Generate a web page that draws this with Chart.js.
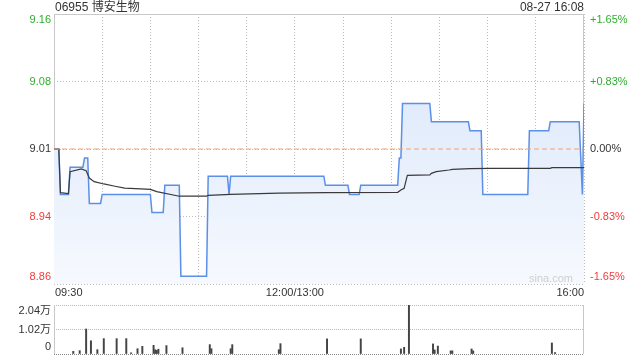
<!DOCTYPE html>
<html>
<head>
<meta charset="utf-8">
<script src="https://cdn.jsdelivr.net/npm/chart.js@4/dist/chart.umd.min.js"></script>
<style>
  html, body { margin: 0; padding: 0; background: #fff; }
  #wrap { position: relative; width: 640px; height: 360px; overflow: hidden; }
  #main { position: absolute; left: 0; top: 0; }
  #vol { position: absolute; left: 0; top: 300px; }
</style>
</head>
<body>
<div id="wrap">
  <canvas id="main" width="640" height="300"></canvas>
  <canvas id="vol" width="640" height="60"></canvas>
</div>
<script>
// ---- data (minute index from 09:30; 150 = 12:00/13:00; 330 = 16:00) ----
const titleText = '06955 博安生物';
const stampText = '08-27 16:08';
const prevClose = 9.01;

const priceMinutes = [0,3,4,9,10,18,19,21,22,29,30,60,61,68,69,78,79,95,96,108,109,110,168,169,183,184,190,191,214,215,216,217,234,235,258,259,266,267,295,296,308,309,327,329,330];
const priceValues  = [9.01,9.01,8.96,8.96,8.99,8.99,9.00,9.00,8.95,8.95,8.96,8.96,8.94,8.94,8.97,8.97,8.87,8.87,8.98,8.98,8.96,8.98,8.98,8.97,8.97,8.96,8.96,8.97,8.97,9.00,9.00,9.06,9.06,9.04,9.04,9.03,9.03,8.96,8.96,9.03,9.03,9.04,9.04,8.96,9.06];

const avgMinutes = [0,3,4,9,10,17,20,22,25,31,38,44,54,60,64,78,95,96,110,140,169,214,216,218,220,234,235,238,246,248,259,272,309,310,330];
const avgValues  = [9.01,9.01,8.962,8.961,8.985,8.988,8.986,8.978,8.974,8.9715,8.969,8.967,8.966,8.9656,8.963,8.958,8.958,8.959,8.960,8.9615,8.962,8.9623,8.9648,8.9667,8.981,8.9814,8.9832,8.985,8.9869,8.9876,8.9883,8.9887,8.9887,8.9894,8.9894];

const volMinutes = [12,16,20,23,27,31,39,45,48,52,55,62,63,64,65,70,80,97,98,110,111,140,141,170,191,216,218,221,236,237,239,247,248,260,261,310,312];
const volValues  = [1100,1400,10400,5500,1800,6400,6400,6400,500,2200,3200,3600,1800,1500,2000,3500,2600,3900,2200,2200,3900,1800,4300,6300,6300,2100,2800,20300,4200,1700,3300,1300,1300,2100,1300,4600,600];

const yMin = 8.861335, yMax = 9.158665;
const yTickValues = [9.158665, 9.0843325, 9.01, 8.9356675, 8.861335];
const leftTickLabels  = ['9.16','9.08','9.01','8.94','8.86'];
const rightTickLabels = ['+1.65%','+0.83%','0.00%','-0.83%','-1.65%'];
const xTickMinutes = [0,150,330];
const xTickLabels  = ['09:30','12:00/13:00','16:00'];
const volMax = 20400;
const volTickValues = [20400, 10200, 0];
const volTickLabels = ['2.04万','1.02万','0'];

// ---- styles ----
const GREEN = '#2fae2f', RED = '#f03c3c', DARK = '#333333';
const tickColors = [GREEN, GREEN, DARK, RED, RED];
const FONT = '"Liberation Sans", Arial, "Noto Sans CJK SC", sans-serif';
const GRID = '#bcbcbc', FRAME = '#c8c8c8';

const pts = (xs, ys) => xs.map((x, i) => ({ x, y: ys[i] }));
const clampY = (p, a) => Math.min(Math.max(p, a.top + 6), a.bottom - 7);

const mainLabels = {
  id: 'mainLabels',
  beforeDatasetsDraw(chart) {
    const { ctx, chartArea: a } = chart;
    ctx.save();
    ctx.strokeStyle = FRAME; ctx.lineWidth = 1;
    ctx.strokeRect(a.left + 0.5, a.top + 0.5, a.right - a.left - 1, a.bottom - a.top - 1);
    ctx.restore();
  },
  afterDraw(chart) {
    const { ctx, chartArea: a, scales } = chart;
    ctx.save();
    ctx.textBaseline = 'middle';
    ctx.font = '11px ' + FONT;
    yTickValues.forEach((v, i) => {
      const py = clampY(scales.y.getPixelForValue(v), a);
      ctx.fillStyle = tickColors[i];
      ctx.textAlign = 'right';
      ctx.fillText(leftTickLabels[i], a.left - 3, py);
      ctx.textAlign = 'left';
      ctx.fillText(rightTickLabels[i], a.right + 6, py);
    });
    ctx.fillStyle = DARK;
    xTickMinutes.forEach((m, i) => {
      const px = scales.x.getPixelForValue(m);
      ctx.textAlign = i === 0 ? 'left' : (i === xTickMinutes.length - 1 ? 'right' : 'center');
      ctx.fillText(xTickLabels[i], px + (i === 0 ? 1 : 0), a.bottom + 9);
    });
    ctx.font = '12px ' + FONT;
    ctx.textAlign = 'left';
    ctx.fillText(titleText, a.left + 1, 8);
    ctx.textAlign = 'right';
    ctx.fillText(stampText, a.right, 8);
    ctx.font = '11px ' + FONT;
    ctx.fillStyle = '#cfcfcf';
    ctx.fillText('sina.com', a.right - 11, a.bottom - 5);
    ctx.restore();
  }
};

new Chart(document.getElementById('main'), {
  type: 'line',
  data: {
    datasets: [
      {
        data: pts(priceMinutes, priceValues),
        borderColor: '#5b8fe8', borderWidth: 1.5,
        fill: 'start',
        backgroundColor(c) {
          const { chart } = c; const a = chart.chartArea;
          if (!a) return 'rgba(220,232,250,0.6)';
          const g = chart.ctx.createLinearGradient(0, a.top, 0, a.bottom);
          g.addColorStop(0, '#d6e4fa');
          g.addColorStop(1, '#f6f9fe');
          return g;
        },
        order: 2
      },
      {
        data: pts(avgMinutes, avgValues),
        borderColor: '#3a3a3a', borderWidth: 1.2, fill: false, order: 1
      },
      {
        data: pts([0, 330], [prevClose, prevClose]),
        borderColor: '#f0a070', borderWidth: 1, borderDash: [5, 3], fill: false, order: 0
      }
    ]
  },
  options: {
    responsive: false, animation: false, devicePixelRatio: 1,
    layout: { padding: { top: 14, left: 0, right: 0, bottom: 0 } },
    elements: { point: { radius: 0 }, line: { tension: 0 } },
    plugins: { legend: { display: false }, tooltip: { enabled: false } },
    scales: {
      x: {
        type: 'linear', min: 0, max: 330,
        ticks: { display: false, stepSize: 30 },
        afterBuildTicks(s) { const t = []; for (let m = 0; m <= 330; m += 30) t.push({ value: m }); s.ticks = t; },
        grid: { display: true, color: GRID, lineWidth: 1, drawTicks: false },
        border: { display: false, dash: [1, 2] },
        afterFit(s) { s.height = 16; }
      },
      y: {
        position: 'left', min: yMin, max: yMax,
        ticks: { display: false },
        afterBuildTicks(s) { s.ticks = yTickValues.map(v => ({ value: v })); },
        grid: { display: true, color: GRID, lineWidth: 1, drawTicks: false },
        border: { display: false, dash: [1, 2] },
        afterFit(s) { s.width = 54; }
      },
      y2: {
        position: 'right', min: yMin, max: yMax,
        ticks: { display: false },
        grid: { display: false },
        border: { display: false },
        afterFit(s) { s.width = 56; }
      }
    }
  },
  plugins: [mainLabels]
});

const volLabels = {
  id: 'volLabels',
  afterDraw(chart) {
    const { ctx, chartArea: a, scales } = chart;
    ctx.save();
    ctx.strokeStyle = FRAME; ctx.lineWidth = 1;
    ctx.beginPath();
    ctx.moveTo(a.left + 0.5, a.top); ctx.lineTo(a.left + 0.5, a.bottom);
    ctx.moveTo(a.right - 0.5, a.top); ctx.lineTo(a.right - 0.5, a.bottom);
    ctx.stroke();
    ctx.font = '11px ' + FONT;
    ctx.fillStyle = DARK;
    ctx.textAlign = 'right'; ctx.textBaseline = 'middle';
    volTickValues.forEach((v, i) => {
      const py = clampY(scales.y.getPixelForValue(v), a);
      ctx.fillText(volTickLabels[i], a.left - 3, py);
    });
    ctx.restore();
  }
};

new Chart(document.getElementById('vol'), {
  type: 'bar',
  data: {
    datasets: [{
      data: pts(volMinutes, volValues),
      backgroundColor: '#444444', barThickness: 1.3, borderWidth: 0
    }]
  },
  options: {
    responsive: false, animation: false, devicePixelRatio: 1,
    layout: { padding: { top: 5, left: 0, right: 56, bottom: 6 } },
    plugins: { legend: { display: false }, tooltip: { enabled: false } },
    scales: {
      x: { type: 'linear', min: 0, max: 330, offset: false, display: false },
      y: {
        position: 'left', min: 0, max: volMax,
        ticks: { display: false },
        afterBuildTicks(s) { s.ticks = volTickValues.map(v => ({ value: v })); },
        grid: { color: (c) => c.tick && c.tick.value === 0 ? '#8a8a8a' : '#bdbdbd', drawTicks: false },
        border: { display: false, dash: [1, 1] },
        afterFit(s) { s.width = 54; }
      }
    }
  },
  plugins: [volLabels]
});
</script>
</body>
</html>
